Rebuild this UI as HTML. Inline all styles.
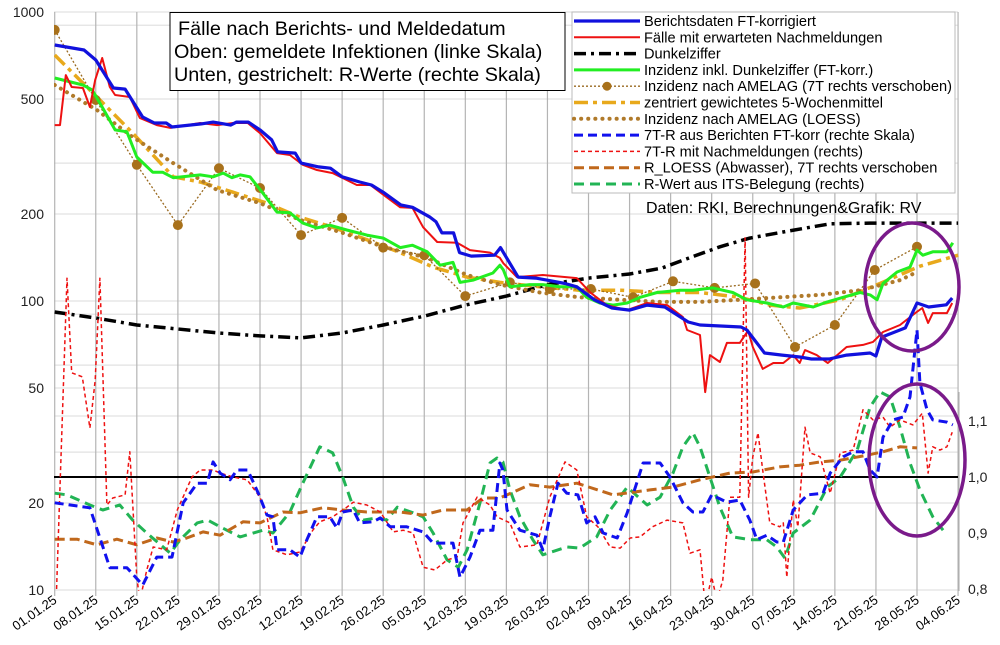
<!DOCTYPE html>
<html><head><meta charset="utf-8"><style>
body{margin:0;background:#fff;}
svg{display:block;font-family:"Liberation Sans",sans-serif;}
</style></head><body>
<svg id="chart" width="1000" height="645" viewBox="0 0 1000 645" xmlns="http://www.w3.org/2000/svg">
<defs><clipPath id="plotclip"><rect x="54" y="10" width="906" height="581"/></clipPath></defs>
<g id="grid"></g>
<g id="axes"></g>
<g id="series" clip-path="url(#plotclip)"></g>
<g id="annot"></g>
<g>
<rect x="170" y="12.5" width="395" height="78" fill="#fff" stroke="#000" stroke-width="1"/>
<text x="178" y="35" font-size="19.8">Fälle nach Berichts- und Meldedatum</text>
<text x="174" y="58" font-size="19.8">Oben: gemeldete Infektionen (linke Skala)</text>
<text x="174" y="81" font-size="19.8">Unten, gestrichelt: R-Werte (rechte Skala)</text>
</g>
<g id="legend"><rect x="572" y="12" width="383" height="181" fill="#fff" stroke="#bbb" stroke-width="1"/></g>
<text x="646" y="213" font-size="16">Daten: RKI, Berechnungen&amp;Grafik: RV</text>
</svg>
<script>
const NS="http://www.w3.org/2000/svg";
const xTickLabels=["01.01.25","08.01.25","15.01.25","22.01.25","29.01.25","05.02.25","12.02.25","19.02.25","26.02.25","05.03.25","12.03.25","19.03.25","26.03.25","02.04.25","09.04.25","16.04.25","23.04.25","30.04.25","07.05.25","14.05.25","21.05.25","28.05.25","04.06.25"];
const leftTicks=[1000,500,200,100,50,20,10];
const leftGrid=[1000,900,500,300,200,100,90,60,50,40,30,20,10];
const rightTicks=[1.1,1.0,0.9,0.8];
const berichtsdaten=[[0,769],[5,739],[7,682],[10,546],[12,541],[15,433],[17,413],[19,413],[20,400],[25,410],[27,416],[30,406],[31,416],[33,416],[35,391],[37,361],[38,328],[41,325],[42,300],[45,291],[47,288],[49,269],[52,258],[54,252],[56,238],[59,215],[61,211],[64,195],[65,188],[66,172],[68,172],[69,147],[71,143],[75,144],[76,153],[79,121],[82,120],[84,118],[87,115],[89,112],[92,101],[95,94.6],[98,93],[101,96.8],[104,95.3],[108,84.6],[110,82.6],[117,81.3],[118,79.4],[121,66.1],[124,65],[127,64],[129,63],[132,63],[135,65],[139,66.1],[140,64.5],[141,75],[145,80.7],[147,98.4],[149,95.3],[152,97],[153,102.4]];
const nachmeldungen=[[0,406],[0.9,406],[1.9,605],[2.9,550],[4.8,546],[6,469],[6.9,582],[8.1,693],[9.4,550],[10.3,516],[12.8,508],[14.5,430],[17.4,406],[19.7,397],[24.8,413],[27.7,406],[30.4,413],[32.9,413],[35,381],[37.9,325],[40.1,320],[42.3,296],[44.7,284],[47.4,277],[51.5,252],[53.8,252],[58.9,211],[61,210],[62.8,180],[65.2,160],[68.6,159],[70.8,150],[74.2,147],[75.9,141],[76.5,135],[78.8,121],[83.2,123],[89,120],[91.3,107],[94.1,96.8],[97.6,93],[101,98.4],[104.4,96.8],[107.1,88],[107.8,79.4],[110,76.3],[110.9,48.4],[111.7,65],[113.4,61.5],[114.6,71.6],[116.8,71.6],[118.2,79],[119,69.3],[120.7,58.2],[122.5,61],[124.2,61],[125.9,65],[127,61],[127.9,67.6],[129.9,65],[131.8,61],[133.4,65],[135,69.3],[137.8,70.5],[139.5,72.2],[141.2,78.1],[144.1,82.6],[146.7,90.8],[147.9,94.6],[148.9,83.9],[149.7,90.8],[152.1,90.8],[153,98.4]];
const dunkelziffer=[[0,91.6],[7,87.3],[14,82.6],[21,80],[28,77.5],[35,75.7],[42,74.5],[49,77.5],[56,82.6],[63,88.7],[70,96.8],[77,104],[84,114],[91,120],[98,124],[103.5,130],[108.6,142],[113.4,154],[118.5,165],[125.3,175],[132.2,185],[139,186],[154,186]];
const inzidenzDZ=[[0,591],[4.8,559],[6.4,537],[8.2,465],[10.3,391],[12.3,385],[14,315],[16.7,279],[18.4,279],[20.2,267],[24.8,273],[27,269],[28.7,277],[30.2,267],[31.6,273],[33.3,269],[35.5,236],[37.9,203],[40.1,202],[42.3,186],[44.7,179],[46.9,183],[49.8,176],[53.2,169],[56,165],[58.9,153],[61,156],[63.5,148],[65.7,133],[67.9,136],[69.1,116],[71.3,118],[74.7,125],[75.9,133],[76.5,128],[77.6,112],[81,114],[83.2,114],[86.1,112],[89,112],[90.7,103],[92.9,98.4],[95.2,96.8],[97.6,98.4],[99.8,103],[102.7,107],[106.6,109],[108.8,109],[112.2,111],[115.6,107],[118,101],[121.4,98.4],[124.2,95.3],[125.9,98.4],[129.3,95.3],[131.7,99.3],[134.4,103],[137.3,107],[139,105],[140.2,101],[141.2,115],[143.6,126],[145.8,131],[147,150],[148,144],[149.7,148],[152.1,148],[153.1,159]];
const amelagDays=[0,7,14,21,28,35,42,49,56,63,70,77.6,84.4,91.4,98.6,105.4,112.5,119.4,126.2,133,139.8,147];
const amelagVals=[867,496,296,183,288,246,169,194,153,144,104,116,110,110,103,117,111,115,69.3,82.6,128,154];
const wochenmittel=[[0,710],[7.7,496],[13.3,381],[20.2,269],[24.8,258],[30.4,238],[36.2,218],[41.8,195],[47.4,180],[53.2,163],[58.9,147],[64.5,131],[70.3,121],[75.9,116],[82.7,112],[89.5,109],[96.4,109],[103.2,107],[110,107],[116.8,103],[121.9,96.8],[127,94.6],[133.9,101],[140.7,115],[147.5,132],[154,144]];
const amelagLoess=[[0,559],[7.2,458],[13.3,369],[20.2,300],[27.7,242],[35,218],[41.8,191],[49.1,172],[56,154],[63.5,141],[70.3,123],[75.9,114],[82.7,107],[89.5,103],[96.4,101],[103.2,99.3],[110,99.3],[116.8,101],[123.6,103],[130.5,105],[137.3,109],[144.1,118],[147,126]];
const rBerichte=[[0,.954],[6,.945],[9.4,.838],[12.3,.838],[15,.807],[17.4,.857],[20,.857],[21.9,.954],[24.3,.989],[26,.989],[27,1.027],[28.2,1.007],[29.9,.995],[31.1,1.0125],[32.9,1.0125],[34.7,.971],[36.2,.932],[37.2,.929],[37.9,.87],[40.1,.87],[41.8,.857],[43,.888],[44.7,.929],[46.9,.929],[48.1,.909],[49.1,.9375],[50.9,.941],[52,.918],[54.3,.92],[55.5,.927],[57.2,.911],[60,.911],[62.8,.902],[64.5,.882],[67.9,.882],[69.1,.821],[70.8,.857],[72.5,.905],[74.7,.905],[75.9,1.025],[76.4,1.0125],[77.1,.941],[79.3,.905],[82.2,.896],[83.2,.87],[84.4,.929],[85.8,.989],[87.3,.971],[89.2,.968],[90.7,.918],[92.1,.929],[93.5,.9],[95.9,.891],[97.6,.936],[100.3,1.025],[103.2,1.025],[104.9,1.0],[107.1,.954],[108.8,.9375],[110.5,.9375],[112,.968],[114.6,.955],[116.8,.959],[118.5,.923],[119.7,.888],[121.4,.896],[123.1,.884],[124.2,.884],[125.9,.941],[128.3,.968],[131,.971],[132.2,1.007],[134.4,1.036],[136.1,1.045],[137.8,1.045],[139,1.0125],[140.2,1.0],[141.2,1.071],[142.9,1.102],[144.6,1.107],[145.8,1.143],[147,1.2625],[147.5,1.168],[148.7,1.12],[149.7,1.102],[152.1,1.098],[153.1,1.093]];
const rNachmeldungen=[[0,.70],[2.1,1.355],[2.9,1.186],[4.7,1.179],[6,1.0875],[6.9,1.173],[7.7,1.355],[8.9,.95],[9.9,.9625],[12,.968],[12.8,1.045],[14,.821],[14.5,.78],[15.7,.834],[16.8,.875],[19.1,.87],[20.9,.941],[23.4,1.0],[24.8,1.0125],[27,1.0125],[28.2,1.007],[30.4,1.0],[32.8,.995],[35,.964],[36.2,.929],[37.2,.87],[39.6,.861],[41.8,.866],[44,.905],[45.2,.92],[47.4,.929],[49.8,.946],[50.9,.955],[53.2,.95],[55.5,.9375],[57.7,.902],[59.4,.905],[61.1,.9],[62.8,.839],[64.8,.834],[66.9,.852],[68.6,.857],[69.6,.918],[72,.964],[74.2,.95],[75.4,.929],[77.6,.918],[79.3,.875],[82.2,.879],[84.4,.964],[87,1.027],[89,1.0125],[90.7,.929],[92.6,.911],[94.7,.875],[96.4,.873],[98.1,.891],[99.8,.893],[101.9,.911],[104.4,.923],[107.1,.918],[108.3,.864],[110,.87],[110.9,.77],[112,.821],[112.9,.78],[113.9,.816],[115.1,.964],[116.8,.964],[117.7,1.427],[118.3,.964],[119,1.036],[119.9,1.079],[120.7,1.0125],[121.9,.918],[123.6,.911],[124.2,.918],[124.8,.821],[125.9,.959],[126.7,.911],[127.9,1.089],[128.8,1.043],[130.5,1.036],[132.2,.971],[133.9,1.043],[136.1,1.048],[137.8,1.12],[139.5,1.102],[141.2,1.107],[142.4,1.089],[144.1,1.102],[146.3,1.093],[147.9,1.114],[148.9,1.007],[149.7,1.054],[150.9,1.048],[152.1,1.054],[153,1.08]];
const rLoess=[[0,.889],[3.8,.889],[7.2,.879],[10.6,.889],[14,.879],[17.4,.891],[20.2,.884],[22.5,.891],[25.3,.902],[28.2,.896],[32.1,.92],[35,.918],[38.9,.9375],[41.8,.936],[45.7,.945],[49.1,.941],[53.2,.9375],[58.9,.9375],[62.8,.932],[66.2,.941],[70.3,.941],[73,.9625],[75.9,.9625],[81,.986],[84.4,.982],[89,.989],[95.2,.968],[101.5,.977],[105.4,.982],[110,.995],[115.1,1.007],[119,1.009],[123.6,1.018],[127,1.021],[130.5,1.027],[133.9,1.03],[138.5,1.039],[141.2,1.045],[144.1,1.054],[147,1.052]];
const rITS=[[0,.971],[2.1,.968],[6,.95],[8.2,.941],[11.1,.95],[13.3,.923],[15.7,.9],[19.7,.864],[21.4,.888],[24.3,.918],[26.1,.923],[28.2,.911],[31.6,.893],[35.5,.905],[37.2,.9],[40.1,.9375],[42.3,.989],[45.2,1.054],[47.4,1.043],[49.1,1.0],[50.9,.946],[52.6,.923],[54.9,.927],[56.6,.923],[58.4,.946],[61.1,.936],[62.8,.929],[64.5,.9],[66.9,.852],[68.8,.839],[70.3,.87],[72.5,.954],[74.2,1.025],[75.4,1.034],[76.4,1.027],[77.6,.977],[79.3,.929],[81.5,.888],[83.2,.861],[87.3,.875],[89.5,.873],[92.4,.893],[94.7,.941],[97.6,.982],[101,.95],[103.2,.964],[105.4,1.007],[107.1,1.054],[108.8,1.079],[110,1.054],[111.7,1.0],[113.4,.946],[115.6,.893],[118.5,.888],[121.4,.888],[123.1,.875],[124.5,.855],[125.9,.9],[128.8,.923],[131.7,.982],[133.9,1.0],[136.8,1.048],[139,1.125],[140.7,1.152],[142.4,1.143],[144.1,1.089],[145.8,1.025],[147.5,.977],[149.7,.929],[151.8,.9]];

const X0=54.7, PXD=5.866;
function xScale(d){return X0+d*PXD;}
function yLeft(v){return 12+289*Math.log10(1000/v);}
function yRight(r){return 477-(r-1)*560;}
function mk(tag,attrs,parent){const e=document.createElementNS(NS,tag);for(const k in attrs)e.setAttribute(k,attrs[k]);parent.appendChild(e);return e;}
const grid=document.getElementById('grid'),axes=document.getElementById('axes'),series=document.getElementById('series'),annot=document.getElementById('annot'),legend=document.getElementById('legend');

leftGrid.forEach(v=>{const l=mk('line',{x1:54,x2:958,y1:yLeft(v),y2:yLeft(v),stroke:'#e2e2e2','stroke-width':1.2},grid);

});
xTickLabels.forEach((t,i)=>{const x=xScale(i*7);
const l=mk('line',{x1:x,x2:x,y1:12,y2:596,stroke:'#b4b4b4','stroke-width':1.2},grid);


const tx=mk('text',{x:x+3,y:602,'font-size':13,'text-anchor':'end',transform:`rotate(-35 ${x+3} 602)`},axes);tx.textContent=t;

});
leftTicks.forEach(v=>{const t=mk('text',{x:44,y:yLeft(v)+5,'font-size':14,'text-anchor':'end',fill:'#222'},axes);t.textContent=String(v);

});
const ra=mk('line',{x1:959,x2:959,y1:392,y2:591,stroke:'#aaa','stroke-width':1},axes);


rightTicks.forEach(r=>{const t=mk('text',{x:968,y:yRight(r)+5,'font-size':14,fill:'#222'},axes);t.textContent=r.toFixed(1).replace('.',',');

});
const bl=mk('line',{x1:54,x2:958,y1:yRight(1),y2:yRight(1),stroke:'#000','stroke-width':2},series);



function pathL(pairs,fy){return pairs.map((p,i)=>(i?'L':'M')+xScale(p[0]).toFixed(1)+','+fy(p[1]).toFixed(1)).join(' ');}
const styles={
 dunkel:{stroke:'#000','stroke-width':3.5,'stroke-dasharray':'12,5,3,5'},
 its:{stroke:'#22b455','stroke-width':3,'stroke-dasharray':'10,6'},
 rloess:{stroke:'#c0681c','stroke-width':3,'stroke-dasharray':'10,5'},
 rnach:{stroke:'#ee1111','stroke-width':1.5,'stroke-dasharray':'4,3'},
 rber:{stroke:'#1111ee','stroke-width':3,'stroke-dasharray':'9,5'},
 wmittel:{stroke:'#e8a91c','stroke-width':3.5,'stroke-dasharray':'14,5,4,5'},
 loess:{stroke:'#b07a2a','stroke-width':4,'stroke-dasharray':'0.1,7','stroke-linecap':'round'},
 amelag:{stroke:'#9a6a20','stroke-width':1.3,'stroke-dasharray':'2,2'},
 green:{stroke:'#22ee22','stroke-width':3},
 red:{stroke:'#ee1111','stroke-width':2},
 blue:{stroke:'#1111dd','stroke-width':3.2}
};
function drawLine(pairs,fy,st,name){const p=mk('path',Object.assign({d:pathL(pairs,fy),fill:'none','stroke-linejoin':'round'},st),series);

}
drawLine(dunkelziffer,yLeft,styles.dunkel,'dunkelziffer-line');
drawLine(rITS,yRight,styles.its,'r-its-line');
drawLine(rLoess,yRight,styles.rloess,'r-loess-line');
drawLine(rNachmeldungen,yRight,styles.rnach,'r-nachmeldungen-line');
drawLine(rBerichte,yRight,styles.rber,'r-berichte-line');
drawLine(wochenmittel,yLeft,styles.wmittel,'wochenmittel-line');
drawLine(amelagLoess,yLeft,styles.loess,'amelag-loess-line');
const amPairs=amelagDays.map((d,i)=>[d,amelagVals[i]]);
drawLine(amPairs,yLeft,styles.amelag,'amelag-line');
amPairs.forEach(p=>{const c=mk('circle',{cx:xScale(p[0]),cy:yLeft(p[1]),r:5,fill:'#a8711b'},series);

});
drawLine(inzidenzDZ,yLeft,styles.green,'inzidenz-dunkelziffer-line');
drawLine(nachmeldungen,yLeft,styles.red,'nachmeldungen-line');
drawLine(berichtsdaten,yLeft,styles.blue,'berichtsdaten-line');

const e1=mk('ellipse',{cx:912,cy:287,rx:47,ry:64,fill:'none',stroke:'#7a1a8a','stroke-width':3.5},annot);


const e2=mk('ellipse',{cx:917,cy:460,rx:48,ry:76,fill:'none',stroke:'#7a1a8a','stroke-width':3.5},annot);



const legItems=[["Berichtsdaten FT-korrigiert",styles.blue],["Fälle mit erwarteten Nachmeldungen",styles.red],["Dunkelziffer",styles.dunkel],["Inzidenz inkl. Dunkelziffer (FT-korr.)",styles.green],["Inzidenz nach AMELAG (7T rechts verschoben)",styles.amelag],["zentriert gewichtetes 5-Wochenmittel",styles.wmittel],["Inzidenz nach AMELAG (LOESS)",styles.loess],["7T-R aus Berichten FT-korr (rechte Skala)",styles.rber],["7T-R mit Nachmeldungen (rechts)",styles.rnach],["R_LOESS (Abwasser), 7T rechts verschoben",styles.rloess],["R-Wert aus ITS-Belegung (rechts)",styles.its]];
legItems.forEach((it,i)=>{const y=21+i*16.3;
const g=mk('g',{},legend);


mk('line',Object.assign({x1:574,x2:640,y1:y,y2:y},it[1]),g);
if(i===4)mk('circle',{cx:607,cy:y,r:4.5,fill:'#a8711b'},g);
const t=mk('text',{x:644,y:y+5,'font-size':14.6},g);t.textContent=it[0];});
</script>
</body></html>
